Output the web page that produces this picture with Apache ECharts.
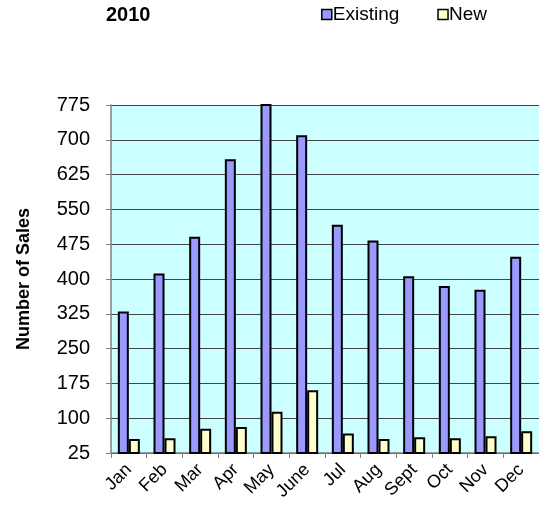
<!DOCTYPE html>
<html><head><meta charset="utf-8">
<script src="https://cdn.jsdelivr.net/npm/echarts@6/dist/echarts.min.js"></script>
<style>html,body{margin:0;padding:0;background:#fff}#c{width:539px;height:510px}</style>
</head><body><div id="c"></div>
<script>
const categories = ['Jan','Feb','Mar','Apr','May','June','Jul','Aug','Sept','Oct','Nov','Dec'];
const existing = [330, 412, 491, 658, 800, 710, 517, 483, 406, 385, 377, 448];
const newSales = [55, 57, 77, 81, 114, 160, 67, 55, 59, 57, 61, 72];
const yTicks = [25, 100, 175, 250, 325, 400, 475, 550, 625, 700, 775];

const chart = echarts.init(document.getElementById('c'));
const font = 'Liberation Sans, Arial, sans-serif';
chart.setOption({
  animation: false,
  title: {
    text: '2010', left: 106, top: 5, padding: 0,
    textStyle: {fontFamily: font, fontSize: 20, fontWeight: 'bold', color: '#000'}
  },
  legend: {
    left: 321, top: 5, padding: 0, itemGap: 38, itemWidth: 10, itemHeight: 10,
    textStyle: {fontFamily: font, fontSize: 19, color: '#000', padding: [0,0,0,-4]},
    data: [
      {name: 'Existing', icon: 'rect', itemStyle: {color: '#9999FF', borderColor: '#000', borderWidth: 1.5}},
      {name: 'New', icon: 'rect', itemStyle: {color: '#FFFFCC', borderColor: '#000', borderWidth: 1.5}}
    ]
  },
  grid: {
    left: 111, top: 105, width: 432, height: 348,
    show: true, backgroundColor: '#CCFFFF', borderWidth: 0
  },
  xAxis: {
    type: 'category', data: categories, boundaryGap: true,
    axisLine: {lineStyle: {color: '#808080', width: 1.5}},
    axisTick: {show: true, length: 5, lineStyle: {color: '#808080'}},
    axisLabel: {rotate: 45, fontFamily: font, fontSize: 18, color: '#000', margin: 14, interval: 0}
  },
  yAxis: {
    type: 'value', min: 25, max: 775, interval: 75,
    name: 'Number of Sales', nameLocation: 'middle', nameGap: 78, nameRotate: 90,
    nameTextStyle: {fontFamily: font, fontSize: 18, fontWeight: 'bold', color: '#000'},
    axisLine: {show: true, lineStyle: {color: '#808080', width: 1.5}},
    axisTick: {show: true, length: 5, lineStyle: {color: '#808080'}},
    axisLabel: {fontFamily: font, fontSize: 20, color: '#000', margin: 21,
      formatter: v => yTicks.includes(v) ? String(v) : ''},
    splitLine: {show: true, lineStyle: {color: '#444', width: 1}}
  },
  series: [
    {name: 'Existing', type: 'bar', data: existing, barWidth: 11, barGap: '0%', clip: true,
     itemStyle: {color: '#9999FF', borderColor: '#000', borderWidth: 2}},
    {name: 'New', type: 'bar', data: newSales, barWidth: 11, clip: true,
     itemStyle: {color: '#FFFFCC', borderColor: '#000', borderWidth: 2}}
  ]
});
</script></body></html>
